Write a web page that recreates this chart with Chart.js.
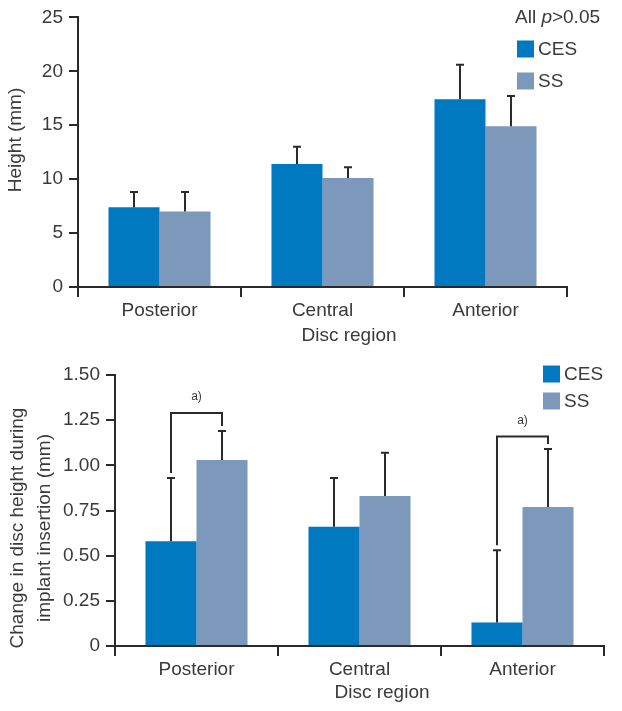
<!DOCTYPE html>
<html>
<head>
<meta charset="utf-8">
<script src="https://cdn.jsdelivr.net/npm/chart.js@4"></script>
<style>
body { margin: 0; background: #fff; }
.box { position: absolute; left: 0; width: 622px; }
</style>
</head>
<body>
<div class="box" style="top:0;height:350px"><canvas id="heightChart"></canvas></div>
<div class="box" style="top:350px;height:361px"><canvas id="changeChart"></canvas></div>
<script>
// categories
const regions = ['Posterior', 'Central', 'Anterior'];

// disc height (mm), mean and SD
const heightCES = [7.4, 11.4, 17.4];
const heightCESErr = [1.4, 1.6, 3.2];
const heightSS = [7.0, 10.1, 14.9];
const heightSSErr = [1.8, 1.0, 2.8];

// change in disc height during implant insertion (mm)
const changeCES = [0.58, 0.66, 0.13];
const changeCESErr = [0.35, 0.27, 0.40];
const changeSS = [1.03, 0.83, 0.77];
const changeSSErr = [0.16, 0.24, 0.32];

// significance brackets (category index, bracket height)
const sigIndex = [0, 2];
const sigTop = [1.29, 1.16];

// tick labels
const heightTicks = [0, 5, 10, 15, 20, 25];
const changeTicks = [0, 0.25, 0.5, 0.75, 1.0, 1.25, 1.5];

const CES_COLOR = '#0079c1';
const SS_COLOR = '#7c98ba';
const INK = '#2a2a2a';
const TEXT = '#3a3a3a';
const FONT = '"Liberation Sans", Arial, sans-serif';

Chart.defaults.font.family = FONT;
Chart.defaults.color = TEXT;

// error bars: line from bar top to mean+SD with a cap
const errorBars = {
    id: 'errorBars',
    afterDatasetsDraw(chart, args, opts) {
        const ctx = chart.ctx;
        const y = chart.scales.y;
        ctx.save();
        ctx.strokeStyle = INK;
        ctx.lineWidth = 2;
        opts.errors.forEach((errs, i) => {
            const meta = chart.getDatasetMeta(i);
            meta.data.forEach((bar, j) => {
                const v = chart.data.datasets[i].data[j];
                const top = y.getPixelForValue(v + errs[j]);
                ctx.beginPath();
                ctx.moveTo(bar.x, bar.y);
                ctx.lineTo(bar.x, top);
                ctx.moveTo(bar.x - 4, top);
                ctx.lineTo(bar.x + 4, top);
                ctx.stroke();
            });
        });
        ctx.restore();
    }
};

// brackets marking significant differences
const brackets = {
    id: 'brackets',
    afterDatasetsDraw(chart, args, opts) {
        if (!opts.index) return;
        const ctx = chart.ctx;
        const y = chart.scales.y;
        const ds = chart.data.datasets;
        ctx.save();
        ctx.strokeStyle = INK;
        ctx.lineWidth = 2;
        ctx.fillStyle = TEXT;
        ctx.font = '12px ' + FONT;
        ctx.textAlign = 'center';
        ctx.textBaseline = 'middle';
        opts.index.forEach((j, k) => {
            const a = chart.getDatasetMeta(0).data[j];
            const b = chart.getDatasetMeta(1).data[j];
            const top = y.getPixelForValue(opts.top[k]);
            const leftEnd = y.getPixelForValue(ds[0].data[j] + opts.errors[0][j]) - 5;
            const rightEnd = y.getPixelForValue(ds[1].data[j] + opts.errors[1][j]) - 5;
            ctx.beginPath();
            ctx.moveTo(a.x, leftEnd);
            ctx.lineTo(a.x, top);
            ctx.lineTo(b.x, top);
            ctx.lineTo(b.x, rightEnd);
            ctx.stroke();
            ctx.fillText('a)', (a.x + b.x) / 2, top - 16);
        });
        ctx.restore();
    }
};

// axis titles and legend, placed like the original figure
const labels = {
    id: 'labels',
    afterDraw(chart, args, opts) {
        const ctx = chart.ctx;
        ctx.save();
        ctx.fillStyle = TEXT;
        ctx.font = '19px ' + FONT;
        ctx.textBaseline = 'middle';

        // y title (rotated)
        opts.yTitle.forEach((line, i) => {
            ctx.save();
            ctx.translate(opts.yTitleX[i], opts.yTitleY);
            ctx.rotate(-Math.PI / 2);
            ctx.textAlign = 'center';
            ctx.fillText(line, 0, 0);
            ctx.restore();
        });

        // x title
        ctx.textAlign = 'center';
        ctx.fillText(opts.xTitle, opts.xTitleX, opts.xTitleY);

        // note "All p>0.05"
        ctx.textAlign = 'left';
        if (opts.note) {
            let x = opts.legendX - 2;
            const yy = opts.noteY;
            ctx.fillText('All ', x, yy);
            x += ctx.measureText('All ').width;
            ctx.font = 'italic 19px ' + FONT;
            ctx.fillText('p', x, yy);
            x += ctx.measureText('p').width;
            ctx.font = '19px ' + FONT;
            ctx.fillText('>0.05', x, yy);
        }

        // legend
        chart.data.datasets.forEach((d, i) => {
            const yy = opts.legendY[i];
            ctx.fillStyle = d.backgroundColor;
            ctx.fillRect(opts.legendX, yy - 8.5, 17, 17);
            ctx.fillStyle = TEXT;
            ctx.fillText(d.label, opts.legendX + 21, yy + 1);
        });
        ctx.restore();
    }
};

function makeChart(id, ces, ss, errs, cfg) {
    return new Chart(document.getElementById(id), {
        type: 'bar',
        data: {
            labels: regions,
            datasets: [
                { label: 'CES', data: ces, backgroundColor: CES_COLOR },
                { label: 'SS', data: ss, backgroundColor: SS_COLOR }
            ]
        },
        options: {
            responsive: true,
            maintainAspectRatio: false,
            animation: false,
            datasets: { bar: { categoryPercentage: 0.626, barPercentage: 1.0 } },
            layout: { padding: cfg.padding },
            scales: {
                x: {
                    grid: { drawOnChartArea: false, offset: true, tickLength: 10, tickColor: INK, lineWidth: 2 },
                    border: { color: INK, width: 2 },
                    ticks: { font: { size: 19 }, padding: 2, color: TEXT },
                    afterFit: s => { s.height = cfg.xHeight; }
                },
                y: {
                    min: 0,
                    max: cfg.ticks[cfg.ticks.length - 1],
                    afterBuildTicks: s => { s.ticks = cfg.ticks.map(v => ({ value: v })); },
                    grid: { drawOnChartArea: false, tickLength: 9, tickColor: INK, lineWidth: 2 },
                    border: { color: INK, width: 2 },
                    ticks: { font: { size: 19 }, padding: 6, color: TEXT, callback: cfg.fmt },
                    afterFit: s => { s.width = cfg.yWidth; }
                }
            },
            plugins: {
                legend: { display: false },
                tooltip: { enabled: false },
                errorBars: { errors: errs },
                brackets: cfg.brackets || {},
                labels: cfg.labels
            }
        },
        plugins: [errorBars, brackets, labels]
    });
}

makeChart('heightChart', heightCES, heightSS, [heightCESErr, heightSSErr], {
    padding: { left: 0, right: 55, top: 16, bottom: 0 },
    xHeight: 63,
    yWidth: 78,
    ticks: heightTicks,
    fmt: v => String(v),
    labels: {
        yTitle: ['Height (mm)'], yTitleX: [16], yTitleY: 140,
        xTitle: 'Disc region', xTitleX: 349, xTitleY: 336,
        note: true, noteY: 18,
        legendX: 517, legendY: [49, 81]
    }
});

makeChart('changeChart', changeCES, changeSS, [changeCESErr, changeSSErr], {
    padding: { left: 0, right: 18, top: 25, bottom: 0 },
    xHeight: 65,
    yWidth: 115,
    ticks: changeTicks,
    fmt: v => v === 0 ? '0' : v.toFixed(2),
    brackets: { index: sigIndex, top: sigTop, errors: [changeCESErr, changeSSErr] },
    labels: {
        yTitle: ['Change in disc height during', 'implant insertion (mm)'], yTitleX: [18, 45], yTitleY: 178,
        xTitle: 'Disc region', xTitleX: 382, xTitleY: 343,
        note: false,
        legendX: 543, legendY: [24, 51]
    }
});
</script>
</body>
</html>
